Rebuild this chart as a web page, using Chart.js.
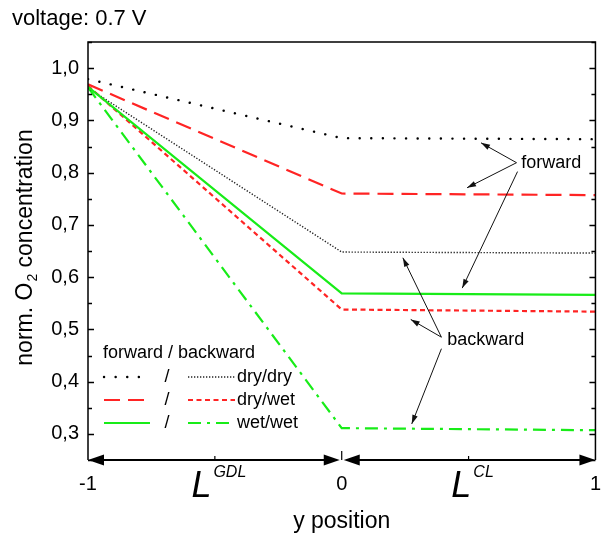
<!DOCTYPE html>
<html>
<head>
<meta charset="utf-8">
<script src="https://cdn.jsdelivr.net/npm/chart.js@4.4.1/dist/chart.umd.min.js"></script>
<style>
  html, body { margin: 0; padding: 0; background: #fff; }
  #wrap { width: 613px; height: 534px; position: relative; }
</style>
</head>
<body>
<div id="wrap"><canvas id="c" width="613" height="534"></canvas></div>
<script>
// y position along GDL (-1..0) and CL (0..1)
const yPositions = [-1, 0, 1];

// normalised O2 concentration, forward simulations
const fwdDryDry = [0.979, 0.866, 0.864];
const fwdDryWet = [0.969, 0.760, 0.757];
const fwdWetWet = [0.964, 0.569, 0.566];

// normalised O2 concentration, backward simulations
const bwdDryDry = [0.962, 0.648, 0.646];
const bwdDryWet = [0.966, 0.538, 0.534];
const bwdWetWet = [0.963, 0.311, 0.307];

const yTickValues = [0.3, 0.4, 0.5, 0.6, 0.7, 0.8, 0.9, 1.0];
const xTickValues = [-1, 0, 1];
const legendLabels = ['dry/dry', 'dry/wet', 'wet/wet'];

const FONT = '"Liberation Sans", Arial, sans-serif';
const RED = '#ff2424';
const GREEN = '#18ec18';

const styles = {
  fwdDryDry: { color: '#000', width: 2.4, dash: [0.1, 11.5], cap: 'round' },
  fwdDryWet: { color: RED, width: 2.2, dash: [16, 8], cap: 'butt' },
  fwdWetWet: { color: GREEN, width: 2.2, dash: [], cap: 'butt' },
  bwdDryDry: { color: '#222', width: 1.4, dash: [1.3, 1.7], cap: 'butt' },
  bwdDryWet: { color: RED, width: 2.2, dash: [5, 3.5], cap: 'butt' },
  bwdWetWet: { color: GREEN, width: 2.2, dash: [13, 6, 3, 6], cap: 'butt' }
};

function toPoints(vals) {
  return yPositions.map((x, i) => ({ x: x, y: vals[i] }));
}
function ds(label, vals, st) {
  return {
    label: label,
    data: toPoints(vals),
    borderColor: st.color,
    borderWidth: st.width,
    borderDash: st.dash,
    borderCapStyle: st.cap,
    pointRadius: 0,
    tension: 0,
    fill: false
  };
}

const datasets = [
  ds('forward dry/dry', fwdDryDry, styles.fwdDryDry),
  ds('forward dry/wet', fwdDryWet, styles.fwdDryWet),
  ds('forward wet/wet', fwdWetWet, styles.fwdWetWet),
  ds('backward dry/dry', bwdDryDry, styles.bwdDryDry),
  ds('backward dry/wet', bwdDryWet, styles.bwdDryWet),
  ds('backward wet/wet', bwdWetWet, styles.bwdWetWet)
];

// arrow annotations in data coordinates: [fromX, fromY, toX, toY]
const forwardArrows = [
  [0.689, 0.819, 0.549, 0.857],
  [0.689, 0.819, 0.494, 0.771],
  [0.693, 0.802, 0.475, 0.579]
];
const backwardArrows = [
  [0.393, 0.485, 0.241, 0.637],
  [0.393, 0.485, 0.272, 0.519],
  [0.393, 0.463, 0.276, 0.319]
];

function arrowHead(ctx, x1, y1, x2, y2, len, half) {
  const a = Math.atan2(y2 - y1, x2 - x1);
  ctx.beginPath();
  ctx.moveTo(x2, y2);
  ctx.lineTo(x2 - len * Math.cos(a) + half * Math.sin(a), y2 - len * Math.sin(a) - half * Math.cos(a));
  ctx.lineTo(x2 - len * Math.cos(a) - half * Math.sin(a), y2 - len * Math.sin(a) + half * Math.cos(a));
  ctx.closePath();
  ctx.fill();
}

function sampleLine(ctx, st, x1, x2, y) {
  ctx.save();
  ctx.strokeStyle = st.color;
  ctx.lineWidth = st.width;
  ctx.setLineDash(st.dash);
  ctx.lineCap = st.cap;
  ctx.beginPath();
  ctx.moveTo(x1, y);
  ctx.lineTo(x2, y);
  ctx.stroke();
  ctx.restore();
}

const framePlugin = {
  id: 'frame',
  afterDraw(chart) {
    const ctx = chart.ctx;
    const xs = chart.scales.x, ys = chart.scales.y;
    const a = chart.chartArea;
    ctx.save();

    // frame: left, top, right
    ctx.strokeStyle = '#000';
    ctx.lineWidth = 1.5;
    ctx.setLineDash([]);
    ctx.beginPath();
    ctx.moveTo(a.left, a.bottom);
    ctx.lineTo(a.left, a.top);
    ctx.lineTo(a.right, a.top);
    ctx.lineTo(a.right, a.bottom);
    ctx.stroke();

    // inner y ticks on both sides (major 0.1, minor 0.05)
    ctx.lineWidth = 1.3;
    for (let v = 0.25; v <= 1.0501; v += 0.05) {
      const vv = Math.round(v * 100) / 100;
      const py = Math.round(ys.getPixelForValue(vv)) + 0.5;
      const major = Math.abs(vv * 10 - Math.round(vv * 10)) < 1e-6;
      const len = major ? 6 : 4;
      ctx.beginPath();
      ctx.moveTo(a.left, py); ctx.lineTo(a.left + len, py);
      ctx.moveTo(a.right, py); ctx.lineTo(a.right - len, py);
      ctx.stroke();
    }

    // bottom double arrows for the GDL and CL regions
    const yb = a.bottom;
    const x0 = xs.getPixelForValue(0);
    ctx.fillStyle = '#000';
    ctx.lineWidth = 2;
    ctx.beginPath();
    ctx.moveTo(a.left + 6, yb); ctx.lineTo(x0 - 6, yb);
    ctx.moveTo(x0 + 6, yb); ctx.lineTo(a.right - 6, yb);
    ctx.stroke();
    arrowHead(ctx, x0, yb, a.left, yb, 16, 5.5);
    arrowHead(ctx, a.left, yb, x0 - 2, yb, 16, 5.5);
    arrowHead(ctx, a.right, yb, x0 + 2, yb, 16, 5.5);
    arrowHead(ctx, x0, yb, a.right, yb, 16, 5.5);
    ctx.lineWidth = 1.2;
    ctx.beginPath();
    ctx.moveTo(x0, yb); ctx.lineTo(x0, yb - 9);
    const xm = xs.getPixelForValue(-0.5), xp = xs.getPixelForValue(0.5);
    ctx.moveTo(xm, yb); ctx.lineTo(xm, yb - 4);
    ctx.moveTo(xp, yb); ctx.lineTo(xp, yb - 4);
    ctx.stroke();

    // region labels L^GDL and L^CL
    ctx.fillStyle = '#000';
    ctx.textBaseline = 'alphabetic';
    ctx.textAlign = 'left';
    function regionLabel(cx, sup) {
      ctx.font = 'italic 36px ' + FONT;
      const wL = ctx.measureText('L').width;
      ctx.font = 'italic 16px ' + FONT;
      const wS = ctx.measureText(sup).width;
      const start = cx - (wL + wS + 2) / 2;
      ctx.font = 'italic 36px ' + FONT;
      ctx.fillText('L', start, 497);
      ctx.font = 'italic 16px ' + FONT;
      ctx.fillText(sup, start + wL + 2, 477);
    }
    regionLabel(xm + 4, 'GDL');
    regionLabel(xp + 4, 'CL');

    // x-axis title
    ctx.font = '23px ' + FONT;
    ctx.textAlign = 'center';
    ctx.fillText('y position', x0, 528);

    // y-axis title with subscript
    ctx.save();
    ctx.translate(32, 248);
    ctx.rotate(-Math.PI / 2);
    const p1 = 'norm. O', p2 = '2', p3 = ' concentration';
    ctx.font = '23px ' + FONT;
    const w1 = ctx.measureText(p1).width, w3 = ctx.measureText(p3).width;
    ctx.font = '14px ' + FONT;
    const w2 = ctx.measureText(p2).width;
    let sx = -(w1 + w2 + w3) / 2;
    ctx.textAlign = 'left';
    ctx.font = '23px ' + FONT;
    ctx.fillText(p1, sx, 0);
    ctx.font = '14px ' + FONT;
    ctx.fillText(p2, sx + w1 + 1, 5);
    ctx.font = '23px ' + FONT;
    ctx.fillText(p3, sx + w1 + w2 + 1, 0);
    ctx.restore();

    // top-left caption
    ctx.font = '22px ' + FONT;
    ctx.textAlign = 'left';
    ctx.fillText('voltage: 0.7 V', 12, 25);

    // forward / backward annotations with arrows
    ctx.font = '18px ' + FONT;
    ctx.textBaseline = 'middle';
    ctx.fillText('forward', xs.getPixelForValue(0.708), ys.getPixelForValue(0.818));
    ctx.fillText('backward', xs.getPixelForValue(0.416), ys.getPixelForValue(0.480));
    ctx.lineWidth = 1;
    ctx.strokeStyle = '#111';
    ctx.fillStyle = '#111';
    forwardArrows.concat(backwardArrows).forEach(ar => {
      const fx = xs.getPixelForValue(ar[0]), fy = ys.getPixelForValue(ar[1]);
      const tx = xs.getPixelForValue(ar[2]), ty = ys.getPixelForValue(ar[3]);
      ctx.beginPath();
      ctx.moveTo(fx, fy); ctx.lineTo(tx, ty);
      ctx.stroke();
      arrowHead(ctx, fx, fy, tx, ty, 9, 2.8);
    });

    // legend
    ctx.fillStyle = '#000';
    ctx.font = '18px ' + FONT;
    ctx.textBaseline = 'middle';
    ctx.fillText('forward / backward', 103, 353);
    const rowY = [377, 400, 423];
    const fwdSt = [styles.fwdDryDry, styles.fwdDryWet, styles.fwdWetWet];
    const bwdSt = [styles.bwdDryDry, styles.bwdDryWet, styles.bwdWetWet];
    rowY.forEach((y, i) => {
      sampleLine(ctx, fwdSt[i], 104, 150, y);
      ctx.fillStyle = '#000';
      ctx.textAlign = 'center';
      ctx.fillText('/', 167, y);
      sampleLine(ctx, bwdSt[i], 188, 235, y);
      ctx.textAlign = 'left';
      ctx.fillText(legendLabels[i], 237, y);
    });

    ctx.restore();
  }
};

new Chart(document.getElementById('c'), {
  type: 'line',
  data: { datasets: datasets },
  options: {
    responsive: false,
    animation: false,
    layout: { padding: { top: 42, right: 11, left: 0, bottom: 0 } },
    plugins: {
      legend: { display: false },
      tooltip: { enabled: false },
      title: { display: false }
    },
    scales: {
      x: {
        type: 'linear',
        min: -1,
        max: 1,
        border: { display: false },
        grid: { display: false, drawTicks: false },
        afterBuildTicks(scale) { scale.ticks = xTickValues.map(v => ({ value: v })); },
        afterFit(scale) { scale.height = 74; },
        ticks: {
          padding: 12,
          maxRotation: 0,
          color: '#000',
          font: { family: FONT, size: 20 },
          callback: v => String(v)
        }
      },
      y: {
        type: 'linear',
        min: 0.25,
        max: 1.05,
        border: { display: false },
        grid: { display: false, drawTicks: false },
        afterBuildTicks(scale) { scale.ticks = yTickValues.map(v => ({ value: v })); },
        afterFit(scale) { scale.width = 88; },
        ticks: {
          padding: 9,
          color: '#000',
          font: { family: FONT, size: 20 },
          callback: v => Number(v).toFixed(1).replace('.', ',')
        }
      }
    }
  },
  plugins: [framePlugin]
});
</script>
</body>
</html>
